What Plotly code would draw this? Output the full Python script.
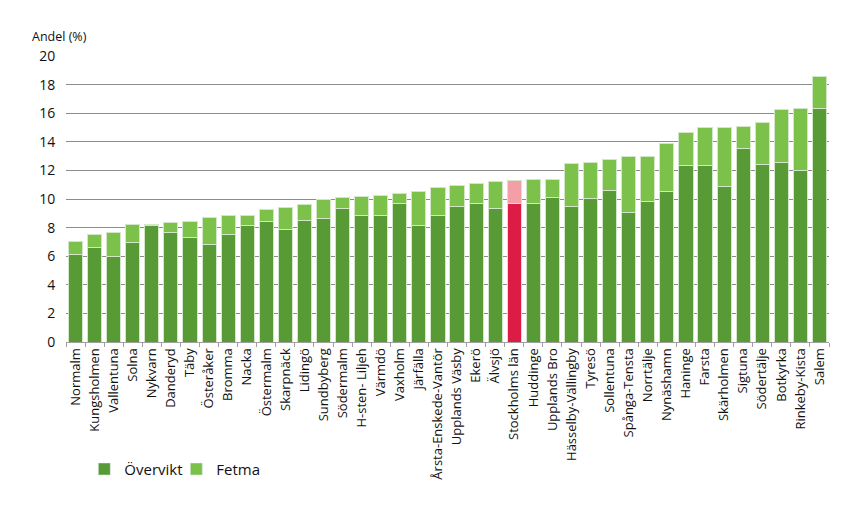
import plotly.graph_objects as go

categories = ["Normalm", "Kungsholmen", "Vallentuna", "Solna", "Nykvarn", "Danderyd", "Täby",
              "Österåker", "Bromma", "Nacka", "Östermalm", "Skarpnäck", "Lidingö", "Sundbyberg",
              "Södermalm", "H-sten- Liljeh", "Värmdö", "Vaxholm", "Järfälla",
              "Årsta-Enskede-Vantör", "Upplands Väsby", "Ekerö", "Älvsjö", "Stockholms län",
              "Huddinge", "Upplands Bro", "Hässelby-Vällingby", "Tyresö", "Sollentuna",
              "Spånga-Tensta", "Norrtälje", "Nynäshamn", "Haninge", "Farsta", "Skärholmen",
              "Sigtuna", "Södertälje", "Botkyrka", "Rinkeby-Kista", "Salem"]

overvikt = [6.15, 6.61, 5.96, 6.94, 8.18, 7.68, 7.31, 6.85, 7.52, 8.15, 8.43, 7.85, 8.52, 8.61,
            9.31, 8.87, 8.87, 9.68, 8.16, 8.87, 9.45, 9.66, 9.36, 9.71, 9.66, 10.13, 9.50, 10.04,
            10.62, 9.06, 9.83, 10.55, 12.37, 12.37, 10.88, 13.50, 12.44, 12.58, 12.00, 16.32]

fetma = [0.86, 0.93, 1.72, 1.26, 0.04, 0.70, 1.14, 1.88, 1.30, 0.67, 0.84, 1.56, 1.07, 1.38,
         0.77, 1.28, 1.35, 0.73, 2.37, 1.96, 1.52, 1.43, 1.89, 1.61, 1.71, 1.24, 2.96, 2.50,
         2.15, 3.94, 3.17, 3.34, 2.27, 2.64, 4.13, 1.58, 2.90, 3.65, 4.30, 2.24]

highlight = "Stockholms län"

DARK = "#589a36"
LIGHT = "#7cc14a"
RED = "#dc1c44"
PINK = "#f49ea8"

dark_colors = [RED if c == highlight else DARK for c in categories]
light_colors = [PINK if c == highlight else LIGHT for c in categories]

fig = go.Figure()
fig.add_trace(go.Bar(x=categories, y=overvikt, name="Övervikt", showlegend=False,
                     marker=dict(color=dark_colors, line=dict(color="#d4e6c8", width=1))))
fig.add_trace(go.Bar(x=categories, y=fetma, name="Fetma", showlegend=False,
                     marker=dict(color=light_colors, line=dict(color="#d4e6c8", width=1))))

# legend entries coloured with the standard series colours
fig.add_trace(go.Bar(x=[None], y=[None], name="Övervikt", marker=dict(color=DARK), showlegend=True))
fig.add_trace(go.Bar(x=[None], y=[None], name="Fetma", marker=dict(color=LIGHT), showlegend=True))

fig.update_layout(
    barmode="stack",
    bargap=0.26,
    width=853, height=508,
    margin=dict(l=58, r=32, t=48, b=174, autoexpand=False),
    plot_bgcolor="white", paper_bgcolor="white",
    font=dict(family="Open Sans", color="#111111"),
    legend=dict(orientation="h", x=0.024, y=-0.445, xanchor="left", yanchor="middle",
                font=dict(size=15, color="#111111"), entrywidth=47, traceorder="normal"),
    xaxis=dict(type="category", tickangle=-90, tickfont=dict(size=13), automargin=False,
               showline=True, linecolor="#a0a0a0", linewidth=1,
               ticks="outside", tickson="boundaries", ticklen=4, tickcolor="#a0a0a0"),
    yaxis=dict(range=[0, 20], dtick=2, showgrid=True, gridcolor="#8c8c8c", gridwidth=1,
               tickfont=dict(size=14), zeroline=False, automargin=False,
               ticks="outside", ticklen=7, tickcolor="rgba(0,0,0,0)", fixedrange=True),
    annotations=[dict(text="Andel (%)", xref="paper", yref="paper", x=-0.047, y=1.03,
                      xanchor="left", yanchor="bottom", showarrow=False,
                      font=dict(size=12.5, color="#111111"))],
)

fig.write_html("out.html")
